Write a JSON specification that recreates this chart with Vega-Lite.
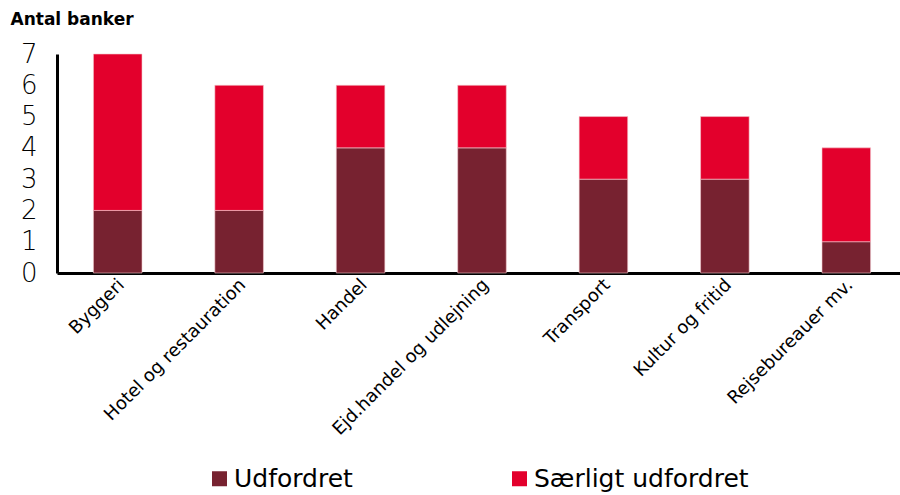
{
  "$schema": "https://vega.github.io/schema/vega-lite/v6.json",
  "autosize": "none",
  "width": 850,
  "height": 219,
  "padding": {"left": 57, "top": 54, "right": 0, "bottom": 222},
  "background": "white",
  "config": {
    "view": {"stroke": null},
    "font": "DejaVu Sans"
  },
  "data": {
    "values": [
      {"branche": "Byggeri", "serie": "Udfordret", "antal": 2},
      {"branche": "Byggeri", "serie": "Særligt udfordret", "antal": 5},
      {"branche": "Hotel og restauration", "serie": "Udfordret", "antal": 2},
      {"branche": "Hotel og restauration", "serie": "Særligt udfordret", "antal": 4},
      {"branche": "Handel", "serie": "Udfordret", "antal": 4},
      {"branche": "Handel", "serie": "Særligt udfordret", "antal": 2},
      {"branche": "Ejd.handel og udlejning", "serie": "Udfordret", "antal": 4},
      {"branche": "Ejd.handel og udlejning", "serie": "Særligt udfordret", "antal": 2},
      {"branche": "Transport", "serie": "Udfordret", "antal": 3},
      {"branche": "Transport", "serie": "Særligt udfordret", "antal": 2},
      {"branche": "Kultur og fritid", "serie": "Udfordret", "antal": 3},
      {"branche": "Kultur og fritid", "serie": "Særligt udfordret", "antal": 2},
      {"branche": "Rejsebureauer mv.", "serie": "Udfordret", "antal": 1},
      {"branche": "Rejsebureauer mv.", "serie": "Særligt udfordret", "antal": 3}
    ]
  },
  "mark": {"type": "bar", "stroke": "#f3c9cf", "strokeWidth": 0.6},
  "encoding": {
    "x": {
      "field": "branche",
      "type": "nominal",
      "sort": ["Byggeri", "Hotel og restauration", "Handel", "Ejd.handel og udlejning", "Transport", "Kultur og fritid", "Rejsebureauer mv."],
      "scale": {"paddingInner": 0.6, "paddingOuter": 0.3},
      "axis": {
        "title": null,
        "labelAngle": -45,
        "labelAlign": "right",
        "labelBaseline": "middle",
        "labelFontSize": 18,
        "labelColor": "black",
        "labelPadding": 9,
        "labelLimit": 300,
        "labelOffset": 4,
        "ticks": false,
        "domainColor": "black",
        "domainWidth": 3
      }
    },
    "y": {
      "field": "antal",
      "type": "quantitative",
      "aggregate": "sum",
      "stack": "zero",
      "scale": {"domain": [0, 7], "nice": false},
      "axis": {
        "title": "Antal banker",
        "titleAngle": 0,
        "titleAlign": "left",
        "titleBaseline": "alphabetic",
        "titleX": -47,
        "titleY": -30,
        "titleFontSize": 17,
        "titleFontWeight": "bold",
        "titleColor": "black",
        "values": [0, 1, 2, 3, 4, 5, 6, 7],
        "labelFontSize": 26,
        "labelColor": "black",
        "labelPadding": 20,
        "labelFont": "DejaVu Sans",
        "labelFontWeight": 300,
        "ticks": false,
        "grid": false,
        "domainColor": "black",
        "domainWidth": 3
      }
    },
    "color": {
      "field": "serie",
      "type": "nominal",
      "scale": {"domain": ["Udfordret", "Særligt udfordret"], "range": ["#772230", "#e3002c"]},
      "legend": {
        "title": null,
        "orient": "none",
        "direction": "horizontal",
        "legendX": 150,
        "legendY": 412,
        "symbolType": "square",
        "symbolSize": 225,
        "symbolStrokeWidth": 0,
        "symbolOpacity": 1,
        "labelFontSize": 25,
        "labelColor": "black",
        "labelOffset": 2,
        "labelLimit": 400,
        "columnPadding": 154
      }
    },
    "order": {"field": "serie", "sort": "descending"}
  }
}
